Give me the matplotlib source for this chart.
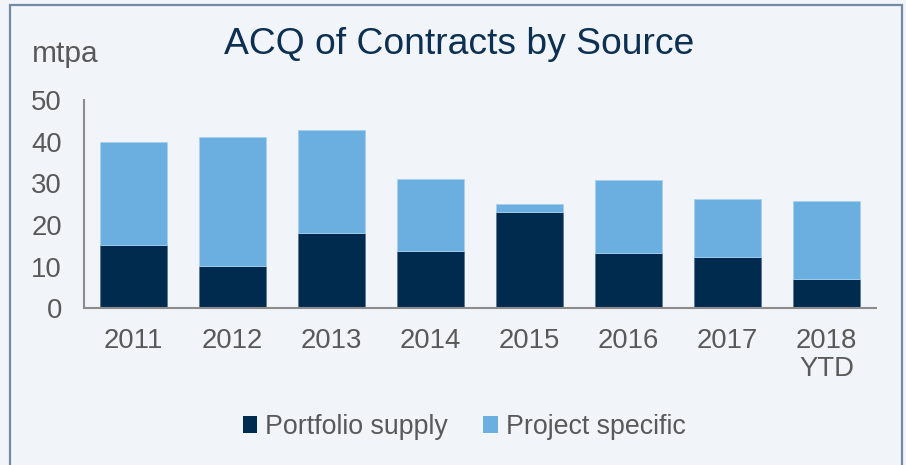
import matplotlib
matplotlib.use("Agg")
import matplotlib.pyplot as plt
from matplotlib.patches import Rectangle, Patch
import numpy as np

categories = ["2011", "2012", "2013", "2014", "2015", "2016", "2017", "2018\nYTD"]
portfolio_supply = [15.2, 10.2, 18.1, 13.8, 23.2, 13.3, 12.3, 7.1]
project_specific = [24.8, 31.0, 24.7, 17.2, 1.8, 17.4, 13.9, 18.7]
series_names = ["Portfolio supply", "Project specific"]

plt.rcParams['font.family'] = ['Liberation Sans', 'DejaVu Sans']

W, H = 906, 465
fig = plt.figure(figsize=(W / 100, H / 100), dpi=100)
bg = "#f1f5fa"
fig.patch.set_facecolor(bg)

# border
fig.patches.append(Rectangle((9.5 / W, -0.05), (902 - 9.5) / W, 1.05 - 5.5 / H,
                             transform=fig.transFigure, fill=False,
                             edgecolor="#7189a3", linewidth=1.6))

left, right, bottom, top = 84, 876, 308.3, 100
ax = fig.add_axes([left / W, 1 - bottom / H, (right - left) / W, (bottom - top) / H])
ax.set_facecolor(bg)

dark = "#002b4f"
light = "#6aafe0"
x = np.arange(len(categories))
ax.bar(x, portfolio_supply, width=0.667, color=dark, edgecolor="#5f7892", linewidth=0.6)
ax.bar(x, project_specific, bottom=portfolio_supply, width=0.667, color=light,
       edgecolor="#a9d2f0", linewidth=0.6)

ax.set_xlim(-0.5, len(categories) - 0.5)
ax.set_ylim(0, 50)
ax.set_yticks([0, 10, 20, 30, 40, 50])
ax.set_xticks(x)
ax.set_xticklabels(categories, linespacing=1.12)
for s in ["top", "right"]:
    ax.spines[s].set_visible(False)
for s in ["left", "bottom"]:
    ax.spines[s].set_color("#8c8c8c")
    ax.spines[s].set_linewidth(1.5)
ax.tick_params(axis="both", length=0, labelsize=19.8, colors="#595959")
ax.tick_params(axis="y", pad=16)
ax.tick_params(axis="x", pad=14)

fig.text(459 / W, 1 - 45 / H, "ACQ of Contracts by Source", ha="center", va="center",
         fontsize=26.8, color="#0c2f52")
fig.text(32 / W, 1 - 62 / H, "mtpa", ha="left", va="baseline", fontsize=21.5, color="#595959")

handles = [Patch(facecolor=dark, edgecolor="none"), Patch(facecolor=light, edgecolor="none")]
leg = fig.legend(handles, series_names, loc="center", bbox_to_anchor=(464 / W, 1 - 427 / H),
                 ncol=2, frameon=False, fontsize=19.3, handlelength=0.55, handleheight=0.55,
                 handletextpad=0.3, columnspacing=1.3, labelcolor="#595959")

fig.savefig("out.png", dpi=100, facecolor=bg)
